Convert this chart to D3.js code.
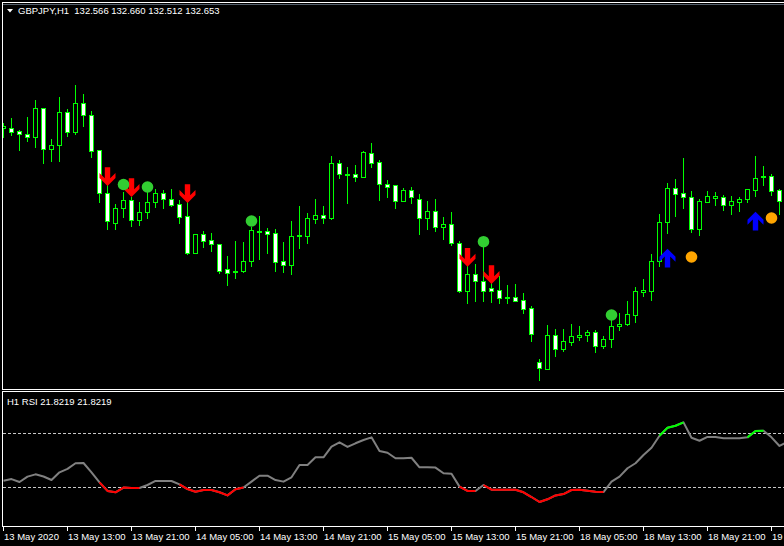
<!DOCTYPE html>
<html><head><meta charset="utf-8">
<script src="https://cdn.jsdelivr.net/npm/d3@7/dist/d3.min.js"></script>
<style>
html,body{margin:0;padding:0;background:#000;overflow:hidden}
svg{display:block}
text{font-family:"Liberation Sans",Arial,sans-serif;fill:#fff;white-space:pre}
</style>
</head><body>
<svg id="c" width="784" height="546"></svg>
<script>
// ---------------- DATA ----------------
const symbolTitle = "GBPJPY,H1";
const headerValues = ["132.566", "132.660", "132.512", "132.653"];
const rsiTitle = "H1 RSI 21.8219 21.8219";

const opens = [133.325,133.317,133.290,133.260,133.227,133.517,133.107,133.147,133.477,133.283,
133.567,133.447,133.097,132.667,132.373,132.517,132.600,132.397,132.477,132.577,
132.667,132.607,132.557,132.437,132.073,132.257,132.200,132.157,131.907,131.875,
131.893,131.987,132.285,132.290,132.267,131.987,131.953,132.235,132.243,132.413,
132.450,132.423,132.967,132.853,132.860,132.827,133.067,132.977,132.757,132.750,
132.593,132.700,132.610,132.423,132.490,132.333,132.357,132.167,131.693,131.857,
131.793,131.717,131.703,131.620,131.627,131.597,131.517,130.977,130.913,131.247,
131.113,131.180,131.233,131.247,131.277,131.143,131.207,131.343,131.363,131.453,
131.683,131.693,131.987,132.383,132.717,132.667,132.627,132.310,132.583,132.623,
132.627,132.553,132.583,132.607,132.700,132.827,132.840,132.700];
const highs = [133.367,133.417,133.300,133.433,133.600,133.520,133.207,133.627,133.507,133.750,
133.660,133.487,133.097,132.767,132.560,132.680,132.633,132.583,132.683,132.710,
132.700,132.710,132.600,132.583,132.257,132.290,132.273,132.157,132.040,132.190,
132.180,132.333,132.440,132.317,132.310,132.180,132.393,132.540,132.470,132.610,
132.540,133.040,133.000,132.933,132.950,133.087,133.173,133.000,132.800,132.750,
132.723,132.727,132.657,132.590,132.610,132.427,132.477,132.190,131.960,131.960,
132.130,131.780,131.840,131.750,131.760,131.670,131.540,131.007,131.350,131.307,
131.307,131.357,131.340,131.300,131.300,131.240,131.400,131.470,131.590,131.730,
131.810,132.060,132.460,132.770,132.810,133.020,132.690,132.610,132.690,132.680,
132.650,132.640,132.633,132.707,133.040,132.940,132.860,132.713];
const lows = [133.227,133.250,133.100,133.193,133.133,132.973,132.993,132.993,133.243,133.260,
133.343,133.033,132.583,132.313,132.313,132.427,132.343,132.353,132.417,132.533,
132.517,132.540,132.373,132.060,132.073,132.133,132.093,131.873,131.750,131.823,
131.883,131.940,132.013,132.073,131.893,131.883,131.860,132.123,132.173,132.373,
132.373,132.413,132.823,132.573,132.793,132.827,132.933,132.600,132.633,132.523,
132.593,132.567,132.257,132.307,132.293,132.207,132.147,131.677,131.573,131.593,
131.593,131.583,131.573,131.573,131.593,131.473,131.193,130.800,130.913,131.043,
131.093,131.150,131.200,131.193,131.083,131.123,131.133,131.300,131.350,131.383,
131.640,131.600,131.940,132.273,132.440,132.517,132.283,132.250,132.583,132.550,
132.500,132.460,132.490,132.583,132.640,132.750,132.650,132.460];
const closes = [133.335,133.283,133.257,133.227,133.517,133.107,133.147,133.477,133.283,133.567,
133.447,133.087,132.667,132.387,132.517,132.600,132.397,132.477,132.577,132.667,
132.607,132.553,132.433,132.073,132.257,132.193,132.157,131.893,131.873,131.885,
131.987,132.300,132.295,132.263,131.983,131.953,132.240,132.245,132.420,132.450,
132.423,132.967,132.857,132.863,132.827,133.077,132.967,132.757,132.733,132.593,
132.700,132.633,132.423,132.490,132.333,132.357,132.167,131.693,131.857,131.793,
131.693,131.693,131.623,131.630,131.593,131.513,131.257,130.923,131.247,131.113,
131.187,131.237,131.247,131.277,131.143,131.207,131.337,131.360,131.460,131.687,
131.697,131.987,132.380,132.717,132.663,132.627,132.310,132.587,132.637,132.637,
132.550,132.587,132.607,132.707,132.817,132.840,132.693,132.593];

const rsi = [34.9,36.1,33.9,37.9,39.6,38.0,35.4,41.1,43.6,47.8,
48.0,41.1,33.7,27.3,26.3,29.8,29.5,29.5,31.7,34.7,
34.7,34.7,32.2,28.7,26.7,28.0,28.0,26.3,24.0,28.5,
29.8,34.2,38.6,38.6,35.4,34.2,37.4,46.5,46.5,52.2,
52.2,60.1,63.3,59.9,62.6,65.0,67.0,56.9,55.6,51.5,
51.5,51.9,44.8,44.8,44.6,40.4,40.1,30.5,27.3,27.3,
31.7,28.2,28.2,28.2,28.2,26.3,22.8,19.1,21.1,24.0,
25.0,28.0,28.2,27.5,26.7,26.5,34.2,37.9,44.1,47.8,
53.9,59.3,68.2,74.1,75.6,78.1,66.7,64.5,67.3,67.3,
66.3,66.3,66.3,67.0,71.7,71.9,67.0,60.6,63.8];
const rsiLevels = [70, 30];

const sellArrowIdx = [13, 16, 23, 58, 61];
const sellArrowPrice = [132.740, 132.630, 132.570, 131.933, 131.760];
const buyArrowIdx = [83, 94];
const buyArrowPrice = [132.113, 132.483];
const greenDotIdx = [15, 18, 31, 60, 76];
const greenDotPrice = [132.755, 132.730, 132.390, 132.183, 131.450];
const orangeDotIdx = [86, 96];
const orangeDotPrice = [132.030, 132.420];

const tickIndex = [0, 8, 16, 24, 32, 40, 48, 56, 64, 72, 80, 88, 96];
const tickLabels = ["13 May 2020", "13 May 13:00", "13 May 21:00", "14 May 05:00", "14 May 13:00",
  "14 May 21:00", "15 May 05:00", "15 May 13:00", "15 May 21:00", "18 May 05:00",
  "18 May 13:00", "18 May 21:00", "19 May 05:00"];

// ---------------- CHART ----------------
const svg = d3.select("#c");
svg.append("rect").attr("width", 784).attr("height", 546).attr("fill", "#000");

const x = d3.scaleLinear().domain([0, 98]).range([3, 787]);
const y = d3.scaleLinear().domain([130.70, 134.60]).range([390, 0]);
const yr = d3.scaleLinear().domain([0, 100]).range([527.8, 392.8]);
const px = i => Math.round(x(i)) + 0.5;

const defs = svg.append("defs");
defs.append("clipPath").attr("id", "cm").append("rect").attr("x", 3).attr("y", 5).attr("width", 781).attr("height", 384);
defs.append("clipPath").attr("id", "cr").append("rect").attr("x", 3).attr("y", 392).attr("width", 781).attr("height", 134);

const main = svg.append("g").attr("clip-path", "url(#cm)");
const bars = opens.map((o, i) => ({ i, o, h: highs[i], l: lows[i], c: closes[i] }));

main.selectAll("line.wick").data(bars).join("line").attr("class", "wick")
  .attr("x1", d => px(d.i)).attr("x2", d => px(d.i))
  .attr("y1", d => Math.round(y(d.h))).attr("y2", d => Math.round(y(d.l)) + 1)
  .attr("stroke", "#00ff00").attr("stroke-width", 1);

main.selectAll("rect.body").data(bars).join("rect").attr("class", "body")
  .attr("x", d => px(d.i) - 2)
  .attr("y", d => Math.round(y(Math.max(d.o, d.c))) + 0.5)
  .attr("width", 4)
  .attr("height", d => Math.max(1, Math.round(y(Math.min(d.o, d.c))) - Math.round(y(Math.max(d.o, d.c)))))
  .attr("fill", d => d.c < d.o ? "#ffffff" : "#000000")
  .attr("stroke", "#00ff00").attr("stroke-width", 1);

// markers
const arrowPath = "M-2.7,-18.7 L2.7,-18.7 L2.7,-7.7 L8,-13 L8,-8 L0,0 L-8,-8 L-8,-13 L-2.7,-7.7 Z";
main.selectAll("path.sell").data(sellArrowIdx).join("path").attr("class", "sell")
  .attr("d", arrowPath)
  .attr("transform", (d, k) => `translate(${x(d) + 0.5},${y(sellArrowPrice[k])})`)
  .attr("fill", "#ff0000");
main.selectAll("path.buy").data(buyArrowIdx).join("path").attr("class", "buy")
  .attr("d", arrowPath)
  .attr("transform", (d, k) => `translate(${x(d) + 0.5},${y(buyArrowPrice[k])}) scale(1,-1)`)
  .attr("fill", "#0000ff");
main.selectAll("circle.gd").data(greenDotIdx).join("circle").attr("class", "gd")
  .attr("cx", d => x(d) + 0.5).attr("cy", (d, k) => y(greenDotPrice[k])).attr("r", 5.8)
  .attr("fill", "#32cd32");
main.selectAll("circle.od").data(orangeDotIdx).join("circle").attr("class", "od")
  .attr("cx", d => x(d) + 0.5).attr("cy", (d, k) => y(orangeDotPrice[k])).attr("r", 5.8)
  .attr("fill", "#ffa500");

// RSI panel
const rp = svg.append("g").attr("clip-path", "url(#cr)");
rp.selectAll("line.lvl").data(rsiLevels).join("line").attr("class", "lvl")
  .attr("x1", 3).attr("x2", 784)
  .attr("y1", d => Math.round(yr(d)) + 0.5).attr("y2", d => Math.round(yr(d)) + 0.5)
  .attr("stroke", "#c8c8c8").attr("stroke-width", 1).attr("stroke-dasharray", "3,2");

const rline = d3.line().x(d => x(d[0]) + 0.5).y(d => yr(d[1]));
const pts = rsi.map((v, i) => [i, v]);
rp.append("path").attr("d", rline(pts)).attr("fill", "none")
  .attr("stroke", "#808080").attr("stroke-width", 2).attr("stroke-linejoin", "round");

// coloured runs (segment colour decided by its end value)
const runs = [];
let cur = null;
for (let i = 0; i < rsi.length - 1; i++) {
  const v = rsi[i + 1];
  const col = v < rsiLevels[1] ? "#ff0000" : (v > rsiLevels[0] ? "#00ff00" : null);
  if (col && cur && cur.col === col) { cur.pts.push(pts[i + 1]); }
  else if (col) { cur = { col, pts: [pts[i], pts[i + 1]] }; runs.push(cur); }
  else cur = null;
}
rp.selectAll("path.run").data(runs).join("path").attr("class", "run")
  .attr("d", d => rline(d.pts)).attr("fill", "none")
  .attr("stroke", d => d.col).attr("stroke-width", 2).attr("stroke-linejoin", "round");

// frames
const fr = svg.append("g").attr("stroke", "#ffffff").attr("stroke-width", 1);
fr.append("line").attr("x1", 2).attr("x2", 784).attr("y1", 2.5).attr("y2", 2.5);
fr.append("line").attr("x1", 3).attr("x2", 784).attr("y1", 4.5).attr("y2", 4.5).attr("stroke", "#55606c");
fr.append("line").attr("x1", 2.5).attr("x2", 2.5).attr("y1", 2).attr("y2", 390);
fr.append("line").attr("x1", 2).attr("x2", 784).attr("y1", 389.5).attr("y2", 389.5);
fr.append("line").attr("x1", 2).attr("x2", 784).attr("y1", 391.5).attr("y2", 391.5);
fr.append("line").attr("x1", 2.5).attr("x2", 2.5).attr("y1", 391).attr("y2", 527);
fr.append("line").attr("x1", 2).attr("x2", 784).attr("y1", 526.5).attr("y2", 526.5);

// x axis ticks and labels
const ax = svg.append("g");
ax.selectAll("line").data(tickIndex).join("line")
  .attr("x1", d => px(d)).attr("x2", d => px(d)).attr("y1", 527).attr("y2", 531)
  .attr("stroke", "#ffffff");
ax.selectAll("text").data(tickIndex).join("text")
  .attr("x", d => Math.round(x(d)) + 1).attr("y", 539.5)
  .attr("font-size", "9.5px")
  .text((d, k) => tickLabels[k]);

// titles
svg.append("path").attr("d", "M7,9 L13,9 L10,12.5 Z").attr("fill", "#ffffff");
svg.append("text").attr("x", 18).attr("y", 13.8).attr("font-size", "9.5px")
  .text(symbolTitle + "  " + headerValues.join(" "));
svg.append("text").attr("x", 7).attr("y", 404.5).attr("font-size", "9.5px").text(rsiTitle);
</script>
</body></html>
